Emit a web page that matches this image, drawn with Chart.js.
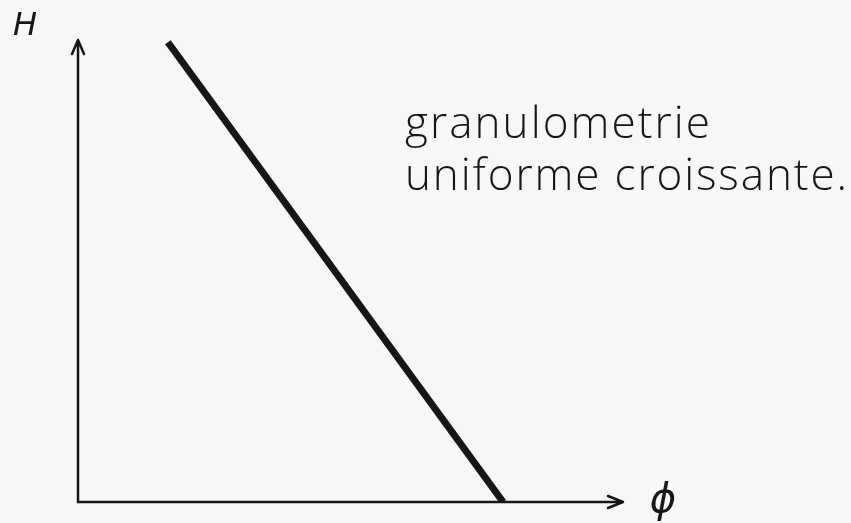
<!DOCTYPE html>
<html>
<head>
<meta charset="utf-8">
<script src="https://cdn.jsdelivr.net/npm/chart.js@4.4.0/dist/chart.umd.min.js"></script>
<style>
  html, body { margin: 0; padding: 0; background: #f7f7f5; }
  #wrap { width: 851px; height: 523px; }
</style>
</head>
<body>
<div id="wrap"><canvas id="chartCanvas"></canvas></div>
<script>
// Grain size (phi) against height H
const phiValues = [1.65, 7.8];
const hValues = [9.95, 0];

const axisLabelX = 'ϕ';
const axisLabelY = 'H';
const noteLines = ['granulometrie', 'uniforme croissante.'];

const ink = '#161616';

// Axes with arrow heads plus the free labels
const sketchAxes = {
    id: 'sketchAxes',
    beforeDatasetsDraw(chart) {
        const { ctx, chartArea: a } = chart;
        ctx.save();
        ctx.strokeStyle = ink;
        ctx.lineWidth = 2.5;
        ctx.lineCap = 'round';
        ctx.lineJoin = 'round';

        // vertical axis
        ctx.beginPath();
        ctx.moveTo(a.left, a.bottom);
        ctx.lineTo(a.left, a.top);
        ctx.moveTo(a.left - 6, a.top + 14);
        ctx.lineTo(a.left, a.top);
        ctx.lineTo(a.left + 6, a.top + 14);
        ctx.stroke();

        // horizontal axis
        ctx.beginPath();
        ctx.moveTo(a.left, a.bottom);
        ctx.lineTo(a.right, a.bottom);
        ctx.moveTo(a.right - 15, a.bottom - 6);
        ctx.lineTo(a.right, a.bottom);
        ctx.lineTo(a.right - 15, a.bottom + 6);
        ctx.stroke();
        ctx.restore();
    },
    afterDraw(chart) {
        const { ctx, chartArea: a } = chart;
        ctx.save();
        ctx.fillStyle = ink;
        ctx.textBaseline = 'alphabetic';

        ctx.font = 'italic 32px "DejaVu Sans"';
        ctx.textAlign = 'center';
        ctx.fillText(axisLabelY, 25, 35);

        ctx.font = 'italic 40px "DejaVu Sans"';
        ctx.fillText(axisLabelX, a.right + 40, a.bottom + 10);

        // note, spaced out to its hand-written width
        ctx.font = '300 44px "Open Sans"';
        ctx.textAlign = 'left';
        const spots = [[405, 138, 305], [405, 190, 442]];
        noteLines.forEach((txt, i) => {
            const [x, y, w] = spots[i];
            ctx.letterSpacing = '0px';
            const gap = (w - ctx.measureText(txt).width) / (txt.length - 1);
            ctx.letterSpacing = gap.toFixed(2) + 'px';
            ctx.fillText(txt, x, y);
        });
        ctx.restore();
    }
};

new Chart(document.getElementById('chartCanvas'), {
    type: 'scatter',
    data: {
        datasets: [{
            data: phiValues.map((p, i) => ({ x: p, y: hValues[i] })),
            showLine: true,
            borderColor: ink,
            borderWidth: 7,
            pointRadius: 0,
            borderCapStyle: 'butt'
        }]
    },
    options: {
        responsive: true,
        maintainAspectRatio: false,
        animation: false,
        layout: { padding: { left: 78, top: 40, right: 228, bottom: 21 } },
        plugins: { legend: { display: false }, tooltip: { enabled: false } },
        scales: {
            x: { type: 'linear', min: 0, max: 10, display: false },
            y: { type: 'linear', min: 0, max: 10, display: false }
        }
    },
    plugins: [sketchAxes]
});
</script>
</body>
</html>
